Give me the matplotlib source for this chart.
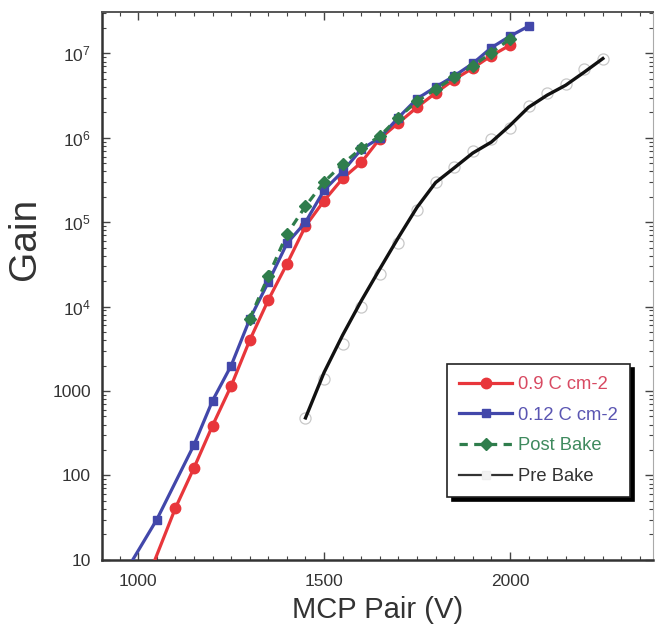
import math
import matplotlib
matplotlib.use('Agg')
import matplotlib.pyplot as plt
from matplotlib.ticker import FixedLocator, MultipleLocator, LogLocator, FuncFormatter, NullFormatter
from matplotlib.lines import Line2D

plt.rcParams['font.family'] = ['Liberation Sans', 'DejaVu Sans']
plt.rcParams['mathtext.fontset'] = 'custom'
plt.rcParams['mathtext.rm'] = 'Liberation Sans'
plt.rcParams['mathtext.default'] = 'regular'

# 0.9 C cm-2 (first point only continues the line below the axis)
red_v = [1025, 1100, 1150, 1200, 1250, 1300, 1350, 1400, 1450, 1500, 1550, 1600,
         1650, 1700, 1750, 1800, 1850, 1900, 1950, 2000]
red_g = [6, 41, 123, 390, 1150, 4000, 12000, 32000, 9.0e4, 1.8e5, 3.3e5, 5.1e5,
         9.8e5, 1.5e6, 2.3e6, 3.4e6, 4.9e6, 6.7e6, 9.4e6, 1.25e7]

# 0.12 C cm-2
blue_v = [950, 1050, 1150, 1200, 1250, 1300, 1350, 1400, 1450, 1500, 1550, 1600,
          1650, 1700, 1750, 1800, 1850, 1900, 1950, 2000, 2050]
blue_g = [5.5, 30, 230, 770, 2000, 7100, 19500, 56000, 1.0e5, 2.4e5, 4.0e5, 7.3e5,
          1.0e6, 1.74e6, 2.9e6, 4.0e6, 5.4e6, 7.6e6, 1.17e7, 1.6e7, 2.1e7]

# Post Bake
post_v = [1300, 1350, 1400, 1450, 1500, 1550, 1600, 1650, 1700, 1750, 1800, 1850,
          1900, 1950, 2000]
post_g = [7200, 23000, 72000, 1.55e5, 3.0e5, 4.9e5, 7.5e5, 1.05e6, 1.74e6, 2.7e6,
          3.76e6, 5.2e6, 7.1e6, 1.02e7, 1.48e7]

# Pre Bake: measured points and smooth fit
pre_v = [1450, 1500, 1550, 1600, 1650, 1700, 1750, 1800, 1850, 1900, 1950, 2000,
         2050, 2100, 2150, 2200, 2250]
pre_g = [480, 1400, 3600, 9800, 24500, 57000, 1.4e5, 3.0e5, 4.5e5, 6.9e5, 9.8e5,
         1.3e6, 2.4e6, 3.4e6, 4.3e6, 6.6e6, 8.7e6]
pre_fit = [480, 1660, 4600, 11700, 28000, 66000, 1.5e5, 2.95e5, 4.4e5, 6.6e5, 8.9e5,
           1.4e6, 2.3e6, 3.2e6, 4.2e6, 6.0e6, 8.7e6]

labels = ['0.9 C cm-2', '0.12 C cm-2', 'Post Bake', 'Pre Bake']
c_red, c_blue, c_green = '#e8363b', '#4247aa', '#2f7d4c'
text_cols = ['#d84a62', '#5a55b2', '#3f8a5e', '#333333']

fig = plt.figure(figsize=(6.55, 6.29), dpi=100)
ax = fig.add_axes([0.156, 0.110, 0.841, 0.871])

ax.plot(pre_v, pre_g, 'o', ms=8, mfc='none', mec='#c8c8c8', mew=0.9, zorder=2)
ax.plot(pre_v, pre_fit, '-', color='#111111', lw=2.4, zorder=3)
ax.plot(red_v, red_g, '-o', color=c_red, lw=2.3, ms=7.5, markevery=list(range(1, len(red_v))), zorder=4)
ax.plot(blue_v, blue_g, '-s', color=c_blue, lw=2.3, ms=6, markevery=list(range(1, len(blue_v))), zorder=5)
ax.plot(post_v, post_g, color=c_green, ls=(0, (2.6, 2.0)), lw=2.3, marker='D', ms=6, zorder=6)

ax.set_yscale('log')
ax.set_xlim(903, 2385)
ax.set_ylim(10, 3.1e7)

ax.xaxis.set_major_locator(FixedLocator([1000, 1500, 2000]))
ax.xaxis.set_minor_locator(MultipleLocator(50))
ax.xaxis.set_minor_formatter(NullFormatter())
ax.yaxis.set_major_locator(LogLocator(base=10))
ax.yaxis.set_minor_locator(LogLocator(base=10, subs=range(2, 10)))
ax.yaxis.set_minor_formatter(NullFormatter())

def yfmt(v, pos):
    if v < 1e4:
        return '%d' % round(v)
    return r'$10^{%d}$' % round(math.log10(v))

ax.yaxis.set_major_formatter(FuncFormatter(yfmt))

ax.tick_params(which='both', direction='in', top=True, right=True, colors='#444444',
               labelcolor='#333333', labelsize=12.5)
ax.tick_params(which='major', length=6, width=1)
ax.tick_params(which='minor', length=3, width=0.8)
ax.tick_params(axis='x', pad=10)
ax.tick_params(axis='y', pad=8)

for s in ['left', 'bottom']:
    ax.spines[s].set_linewidth(1.8)
    ax.spines[s].set_color('#333333')
ax.spines['top'].set_linewidth(1.4)
ax.spines['top'].set_color('#555555')
ax.spines['right'].set_linewidth(0.8)
ax.spines['right'].set_color('#aaaaaa')

ax.set_xlabel('MCP Pair (V)', fontsize=21, color='#333333')
ax.set_ylabel('Gain', fontsize=28, color='#333333')
ax.xaxis.set_label_coords(0.5, -0.066)
ax.yaxis.set_label_coords(-0.107, 0.586)

handles = [
    Line2D([], [], color=c_red, lw=2.3, marker='o', ms=7.5),
    Line2D([], [], color=c_blue, lw=2.3, marker='s', ms=6),
    Line2D([], [], color=c_green, lw=2.3, ls=(0, (2.6, 2.0)), marker='D', ms=6),
    Line2D([], [], color='#333333', lw=1.6, marker='s', ms=6, mfc='#f2f2f2', mec='#eeeeee'),
]
leg = ax.legend(handles, labels, loc='upper left', bbox_to_anchor=(0.61, 0.374),
                fontsize=13.2, frameon=True, fancybox=False, framealpha=1,
                edgecolor='#222222', handlelength=2.9, handletextpad=0.3,
                labelspacing=0.75, borderpad=0.65,
                shadow={'color': 'black', 'alpha': 1, 'ox': 3, 'oy': -3})
leg.get_frame().set_linewidth(1.2)
for t, c in zip(leg.get_texts(), text_cols):
    t.set_color(c)

fig.savefig('out.png', dpi=100)
